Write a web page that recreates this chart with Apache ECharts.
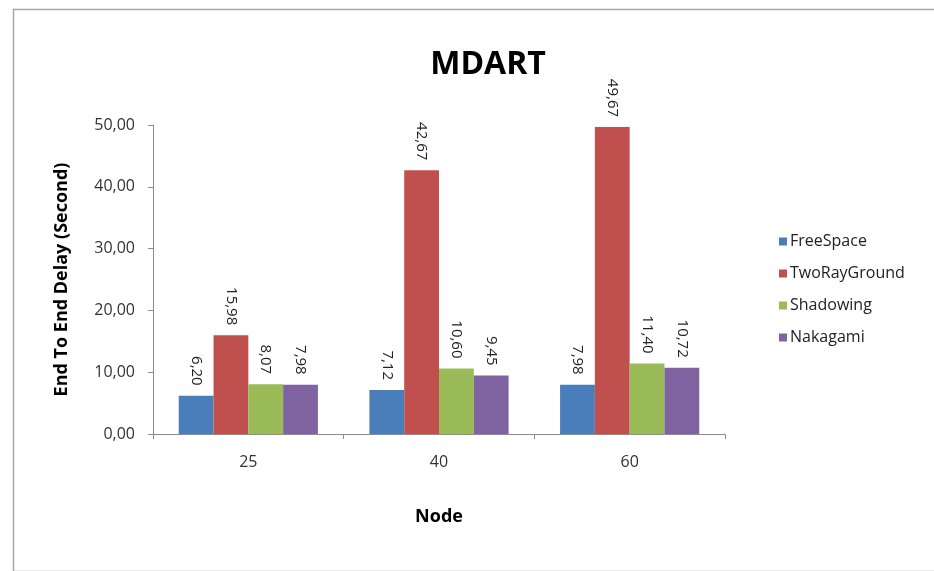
<!DOCTYPE html>
<html>
<head>
<meta charset="utf-8">
<script src="https://cdn.jsdelivr.net/npm/echarts@6/dist/echarts.min.js"></script>
<style>html,body{margin:0;padding:0;background:#fff;}#c{width:934px;height:571px;}</style>
</head>
<body>
<div id="c"></div>
<script>
var categories = ['25', '40', '60'];
var seriesNames = ['FreeSpace', 'TwoRayGround', 'Shadowing', 'Nakagami'];
var freeSpace = [6.20, 7.12, 7.98];
var twoRayGround = [15.98, 42.67, 49.67];
var shadowing = [8.07, 10.60, 11.40];
var nakagami = [7.98, 9.45, 10.72];
var yTicks = [0, 10, 20, 30, 40, 50];
var colors = ['#4a7ebb', '#c0504d', '#9bbb59', '#8064a2'];

var allData = [freeSpace, twoRayGround, shadowing, nakagami];
function fmt(v) { return v.toFixed(2).replace('.', ','); }

var chart = echarts.init(document.getElementById('c'), null, {renderer: 'canvas'});
chart.setOption({
  animation: false,
  backgroundColor: '#fff',
  graphic: [{
    type: 'rect', left: 11, top: 7, shape: {width: 922, height: 562},
    style: {fill: 'none', stroke: '#a6a6a6', lineWidth: 1.5}, silent: true
  }],
  title: {
    text: 'MDART', left: 483, top: 44, textAlign: 'center',
    textStyle: {fontFamily: 'Open Sans', fontWeight: 'bold', fontSize: 32, color: '#000'}
  },
  legend: {
    orient: 'vertical', left: 774, top: 227, itemGap: 13,
    itemWidth: 8, itemHeight: 8, icon: 'rect',
    textStyle: {fontFamily: 'Open Sans', fontSize: 16, lineHeight: 19, color: '#222', padding: [0,0,0,-2]},
    data: seriesNames
  },
  grid: {left: 153, right: 209, top: 125, bottom: 137, containLabel: false},
  xAxis: {
    type: 'category', data: categories,
    name: 'Node', nameLocation: 'middle', nameGap: 74,
    nameTextStyle: {fontFamily: 'Open Sans', fontWeight: 'bold', fontSize: 18, color: '#000'},
    axisLine: {lineStyle: {color: '#8c8c8c'}},
    axisTick: {show: true, length: 5, lineStyle: {color: '#8c8c8c'}},
    axisLabel: {fontFamily: 'Open Sans', fontSize: 16, color: '#333', margin: 20}
  },
  yAxis: {
    type: 'value', min: yTicks[0], max: yTicks[yTicks.length - 1], interval: 10,
    name: 'End To End Delay (Second)', nameLocation: 'middle', nameGap: 82,
    nameTextStyle: {fontFamily: 'Open Sans', fontWeight: 'bold', fontSize: 18, color: '#000'},
    axisLine: {show: true, lineStyle: {color: '#8c8c8c'}},
    axisTick: {show: true, length: 5, inside: false, lineStyle: {color: '#8c8c8c'}},
    splitLine: {show: false},
    axisLabel: {fontFamily: 'Open Sans', fontSize: 16, color: '#333', margin: 18,
      formatter: function (v) { return fmt(v); }}
  },
  series: seriesNames.map(function (n, i) {
    return {
      name: n, type: 'bar', data: allData[i],
      barGap: '0%', barCategoryGap: '27%',
      itemStyle: {color: colors[i]},
      label: {
        show: true, position: 'top', rotate: -90, align: 'right', verticalAlign: 'middle',
        distance: 10, fontFamily: 'Open Sans', fontSize: 15, color: '#222',
        formatter: function (p) { return fmt(p.value); }
      }
    };
  })
});
</script>
</body>
</html>
